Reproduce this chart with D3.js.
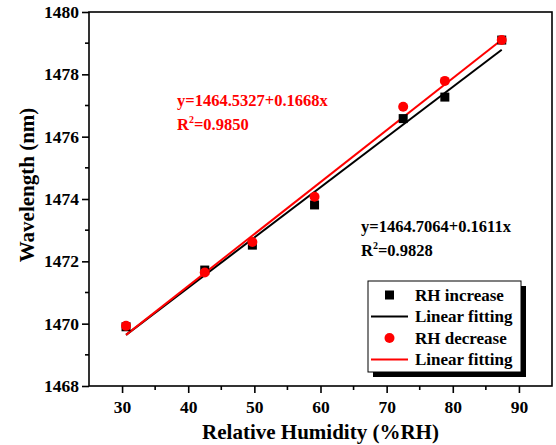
<!DOCTYPE html>
<html>
<head>
<meta charset="utf-8">
<script src="https://cdn.jsdelivr.net/npm/d3@7"></script>
<style>
  html, body { margin: 0; padding: 0; background: #fff; }
  svg { display: block; font-family: "Liberation Serif", "Times New Roman", serif; font-weight: bold; }
</style>
</head>
<body>
<svg id="chart" width="556" height="445"></svg>
<script>
// ---- data ----
const humidity = [30.6, 42.5, 49.7, 59.1, 72.5, 78.8, 87.4];
const rhIncrease = [1469.90, 1471.72, 1472.52, 1473.81, 1476.58, 1477.27, 1479.10];
const rhDecrease = [1469.93, 1471.64, 1472.62, 1474.07, 1476.96, 1477.79, 1479.10];
const fitX = [30.6, 87.4];
const fitIncrease = [1469.64, 1478.79];
const fitDecrease = [1469.64, 1479.11];
const xTicks = [30, 40, 50, 60, 70, 80, 90];
const yTicks = [1468, 1470, 1472, 1474, 1476, 1478, 1480];
const eqDecrease = ["y=1464.5327+0.1668x", "0.9850"];
const eqIncrease = ["y=1464.7064+0.1611x", "0.9828"];
const legendLabels = ["RH increase", "Linear fitting", "RH decrease", "Linear fitting"];

// ---- layout ----
const svg = d3.select("#chart");
const L = 89, R = 552, T = 12, B = 386;
const x = d3.scaleLinear().domain([25, 95]).range([L, R]);
const y = d3.scaleLinear().domain([1468, 1480]).range([B, T]);

// frame
svg.append("rect").attr("x", L).attr("y", T).attr("width", R - L).attr("height", B - T)
  .attr("fill", "none").attr("stroke", "#000").attr("stroke-width", 1.6);

// x axis
const xAxis = d3.axisBottom(x).tickValues(xTicks).tickSize(7).tickPadding(8).tickFormat(d3.format("d"));
const gx = svg.append("g").attr("transform", `translate(0,${B})`).call(xAxis);
gx.select(".domain").remove();
gx.selectAll("line").attr("stroke-width", 1.6);
gx.selectAll("text").attr("font-size", 17.5).attr("font-family", "Liberation Serif").attr("font-weight", "bold").attr("fill", "#000");
const xMinor = d3.range(35, 95, 10);
svg.append("g").selectAll("line").data(xMinor).join("line")
  .attr("x1", d => x(d)).attr("x2", d => x(d)).attr("y1", B).attr("y2", B + 4)
  .attr("stroke", "#000").attr("stroke-width", 1.6);

// y axis
const yAxis = d3.axisLeft(y).tickValues(yTicks).tickSize(7).tickPadding(3).tickFormat(d3.format("d"));
const gy = svg.append("g").attr("transform", `translate(${L},0)`).call(yAxis);
gy.select(".domain").remove();
gy.selectAll("line").attr("stroke-width", 1.6);
gy.selectAll("text").attr("font-size", 17.5).attr("font-family", "Liberation Serif").attr("font-weight", "bold").attr("fill", "#000");
const yMinor = d3.range(1469, 1480, 2);
svg.append("g").selectAll("line").data(yMinor).join("line")
  .attr("x1", L - 4).attr("x2", L).attr("y1", d => y(d)).attr("y2", d => y(d))
  .attr("stroke", "#000").attr("stroke-width", 1.6);

// axis titles
svg.append("text").attr("x", (L + R) / 2).attr("y", 439).attr("text-anchor", "middle")
  .attr("font-size", 21).text("Relative Humidity (%RH)");
svg.append("text").attr("transform", "translate(34,185) rotate(-90)").attr("text-anchor", "middle")
  .attr("font-size", 21).text("Wavelength (nm)");

// fit lines
const line = d3.line().x(d => x(d[0])).y(d => y(d[1]));
svg.append("path").datum(fitX.map((v, i) => [v, fitIncrease[i]]))
  .attr("d", line).attr("stroke", "#000").attr("stroke-width", 2).attr("fill", "none");
svg.append("path").datum(fitX.map((v, i) => [v, fitDecrease[i]]))
  .attr("d", line).attr("stroke", "#ff0000").attr("stroke-width", 2).attr("fill", "none");

// markers
const sq = 9;
svg.append("g").selectAll("rect").data(humidity).join("rect")
  .attr("x", (d) => x(d) - sq / 2).attr("y", (d, i) => y(rhIncrease[i]) - sq / 2)
  .attr("width", sq).attr("height", sq).attr("fill", "#000");
svg.append("g").selectAll("circle").data(humidity).join("circle")
  .attr("cx", d => x(d)).attr("cy", (d, i) => y(rhDecrease[i])).attr("r", 5).attr("fill", "#ff0000");

// equations
function eq(xp, yp, color, e) {
  svg.append("text").attr("x", xp).attr("y", yp).attr("fill", color).attr("font-size", 16.5).text(e[0]);
  const t = svg.append("text").attr("x", xp).attr("y", yp + 24).attr("fill", color).attr("font-size", 16.5);
  t.append("tspan").text("R");
  t.append("tspan").attr("dy", -7).attr("font-size", 10).text("2");
  t.append("tspan").attr("dy", 7).text("=" + e[1]);
}
eq(177, 106, "#ff0000", eqDecrease);
eq(361, 232, "#000", eqIncrease);

// legend
const lx = 368, ly = 281, lw = 153, lh = 91;
svg.append("rect").attr("x", lx + 5).attr("y", ly + 5).attr("width", lw).attr("height", lh).attr("fill", "#000");
svg.append("rect").attr("x", lx).attr("y", ly).attr("width", lw).attr("height", lh)
  .attr("fill", "#fff").attr("stroke", "#000").attr("stroke-width", 1);
const rows = [295, 316.5, 338, 359.5];
rows.forEach((ry, i) => {
  if (i === 0) {
    svg.append("rect").attr("x", 389.5 - sq / 2).attr("y", ry - sq / 2).attr("width", sq).attr("height", sq).attr("fill", "#000");
  } else if (i === 2) {
    svg.append("circle").attr("cx", 389.5).attr("cy", ry).attr("r", 5).attr("fill", "#ff0000");
  } else {
    svg.append("line").attr("x1", 371).attr("x2", 408).attr("y1", ry).attr("y2", ry)
      .attr("stroke", i === 1 ? "#000" : "#ff0000").attr("stroke-width", 2);
  }
  svg.append("text").attr("x", 415).attr("y", ry + 5.5).attr("font-size", 17).text(legendLabels[i]);
});
</script>
</body>
</html>
